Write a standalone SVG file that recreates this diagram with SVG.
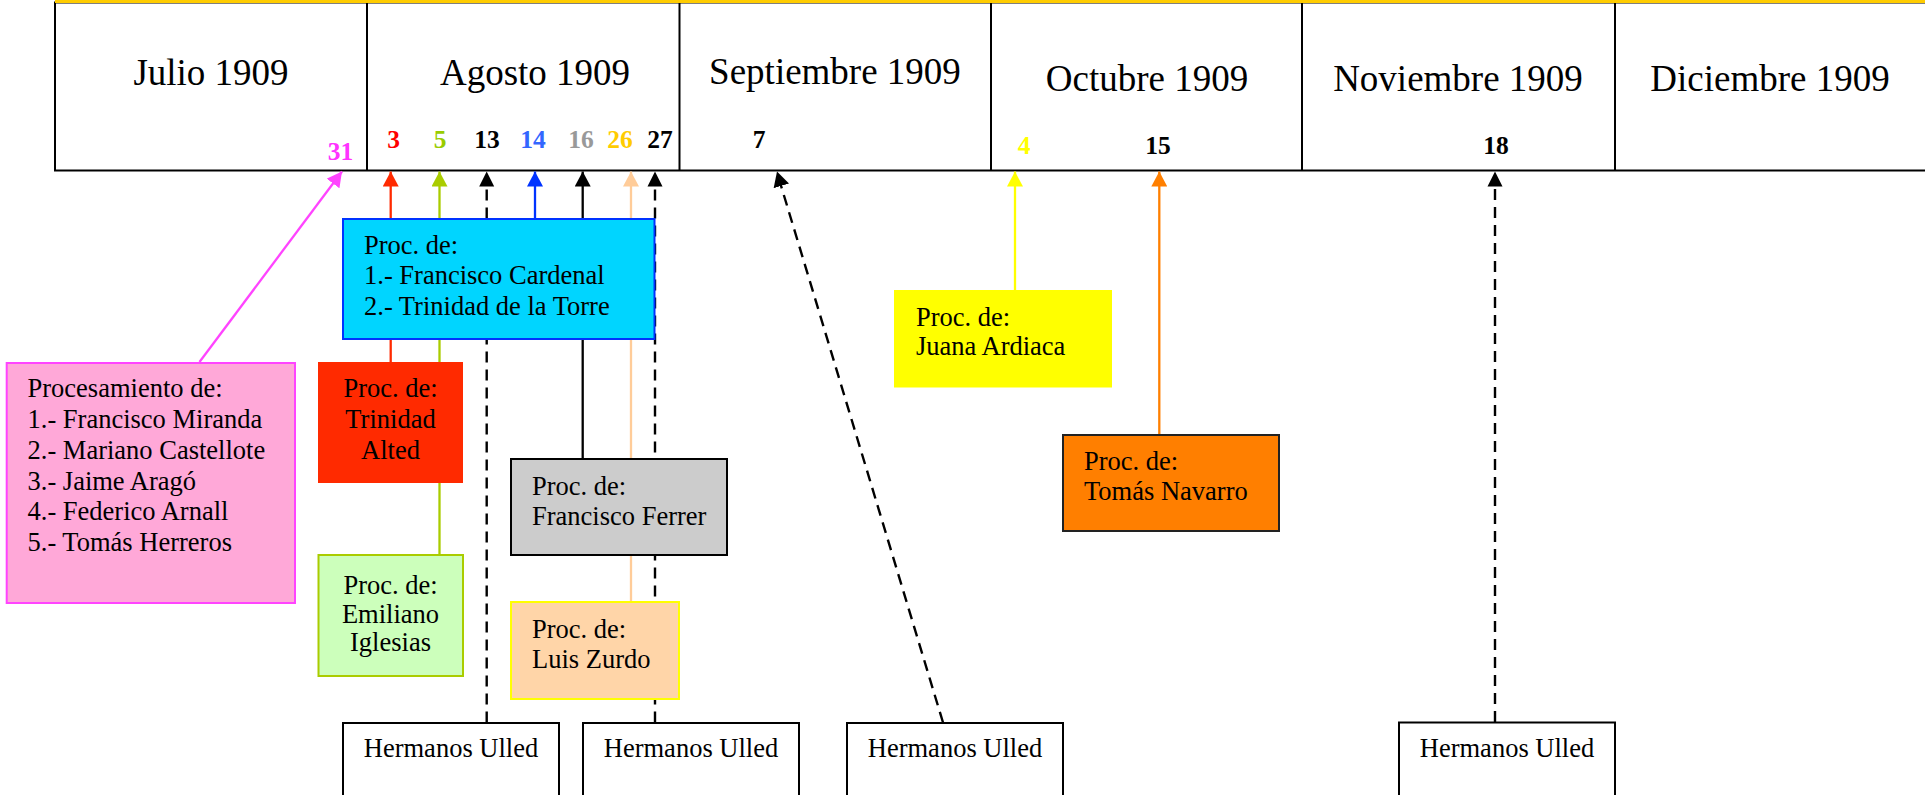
<svg xmlns="http://www.w3.org/2000/svg" width="1925" height="795" viewBox="0 0 1925 795">
<style>
text{font-family:"Liberation Serif","Times New Roman",serif;fill:#000}
.m{font-size:37px;text-anchor:middle}
.d{font-size:25.5px;font-weight:bold;text-anchor:middle}
.t{font-size:26.5px}
.c{text-anchor:middle}
.ln{fill:none;stroke-width:2.3}
.dash{stroke:#000;stroke-width:2.4;stroke-dasharray:11 7;fill:none}
</style>
<defs>
<marker id="aK" viewBox="0 0 15 16" refX="15" refY="8" markerWidth="15" markerHeight="16" markerUnits="userSpaceOnUse" orient="auto"><path d="M0,0L15,8L0,16Z" fill="#000"/></marker>
<marker id="aM" viewBox="0 0 15 16" refX="15" refY="8" markerWidth="15" markerHeight="16" markerUnits="userSpaceOnUse" orient="auto"><path d="M0,0L15,8L0,16Z" fill="#FF44FF"/></marker>
<marker id="aR" viewBox="0 0 15 16" refX="15" refY="8" markerWidth="15" markerHeight="16" markerUnits="userSpaceOnUse" orient="auto"><path d="M0,0L15,8L0,16Z" fill="#FF2A00"/></marker>
<marker id="aG" viewBox="0 0 15 16" refX="15" refY="8" markerWidth="15" markerHeight="16" markerUnits="userSpaceOnUse" orient="auto"><path d="M0,0L15,8L0,16Z" fill="#AACC00"/></marker>
<marker id="aB" viewBox="0 0 15 16" refX="15" refY="8" markerWidth="15" markerHeight="16" markerUnits="userSpaceOnUse" orient="auto"><path d="M0,0L15,8L0,16Z" fill="#0033FF"/></marker>
<marker id="aP" viewBox="0 0 15 16" refX="15" refY="8" markerWidth="15" markerHeight="16" markerUnits="userSpaceOnUse" orient="auto"><path d="M0,0L15,8L0,16Z" fill="#FFCC99"/></marker>
<marker id="aY" viewBox="0 0 15 16" refX="15" refY="8" markerWidth="15" markerHeight="16" markerUnits="userSpaceOnUse" orient="auto"><path d="M0,0L15,8L0,16Z" fill="#FFFF00"/></marker>
<marker id="aO" viewBox="0 0 15 16" refX="15" refY="8" markerWidth="15" markerHeight="16" markerUnits="userSpaceOnUse" orient="auto"><path d="M0,0L15,8L0,16Z" fill="#FF7F00"/></marker>
</defs>

<g id="timeline">
<rect x="55" y="2.5" width="1880" height="168" fill="#fff" stroke="#000" stroke-width="2"/>
<line x1="55" y1="1.4" x2="1925" y2="1.4" stroke="#FFCC00" stroke-width="3.2"/>
<g stroke="#000" stroke-width="2">
<line x1="367" y1="3" x2="367" y2="170"/>
<line x1="679.5" y1="3" x2="679.5" y2="170"/>
<line x1="991" y1="3" x2="991" y2="170"/>
<line x1="1302" y1="3" x2="1302" y2="170"/>
<line x1="1615" y1="3" x2="1615" y2="170"/>
</g>
<text class="m" x="211" y="85">Julio 1909</text>
<text class="m" x="535" y="85">Agosto 1909</text>
<text class="m" x="835" y="84">Septiembre 1909</text>
<text class="m" x="1147" y="90.5">Octubre 1909</text>
<text class="m" x="1458" y="90.5">Noviembre 1909</text>
<text class="m" x="1770" y="90.5">Diciembre 1909</text>
<text class="d" x="340.5" y="160" style="fill:#FF33FF">31</text>
<text class="d" x="393.5" y="148" style="fill:#FF0000">3</text>
<text class="d" x="440" y="148" style="fill:#99CC00">5</text>
<text class="d" x="487" y="148">13</text>
<text class="d" x="533" y="148" style="fill:#3366FF">14</text>
<text class="d" x="581" y="148" style="fill:#999999">16</text>
<text class="d" x="620" y="148" style="fill:#FFCC00">26</text>
<text class="d" x="660" y="148">27</text>
<text class="d" x="759" y="148">7</text>
<text class="d" x="1024" y="154" style="fill:#FFFF00">4</text>
<text class="d" x="1158" y="154">15</text>
<text class="d" x="1496" y="154">18</text>
</g>

<g id="connectors">
<line class="ln" x1="199.5" y1="362" x2="342" y2="171.5" stroke="#FF44FF" marker-end="url(#aM)"/>
<line class="ln" x1="390.7" y1="362" x2="390.7" y2="171.5" stroke="#FF2A00" marker-end="url(#aR)"/>
<line class="ln" x1="439.5" y1="555" x2="439.5" y2="171.5" stroke="#AACC00" marker-end="url(#aG)"/>
<line class="dash" x1="486.7" y1="722.5" x2="486.7" y2="180"/>
<path d="M479.2,186.5L486.7,171.5L494.2,186.5Z" fill="#000"/>
<line class="ln" x1="535" y1="219" x2="535" y2="171.5" stroke="#0033FF" marker-end="url(#aB)"/>
<line class="ln" x1="582.7" y1="459" x2="582.7" y2="171.5" stroke="#000" marker-end="url(#aK)"/>
<line class="ln" x1="631" y1="602" x2="631" y2="171.5" stroke="#FFCC99" marker-end="url(#aP)"/>
<line class="dash" x1="655" y1="722.5" x2="655" y2="180"/>
<path d="M647.5,186.5L655,171.5L662.5,186.5Z" fill="#000"/>
<line class="dash" x1="943" y1="722.5" x2="779" y2="179"/>
<line class="ln" x1="943" y1="722.5" x2="777" y2="171.5" stroke="none" marker-end="url(#aK)"/>
<line class="ln" x1="1015" y1="290" x2="1015" y2="171.5" stroke="#FFFF00" marker-end="url(#aY)"/>
<line class="ln" x1="1159.3" y1="435" x2="1159.3" y2="171.5" stroke="#FF7F00" stroke-width="2.6" marker-end="url(#aO)"/>
<line class="dash" x1="1495" y1="722" x2="1495" y2="180"/>
<path d="M1487.5,186.5L1495,171.5L1502.5,186.5Z" fill="#000"/>
</g>

<g id="n-pink">
<rect x="6.7" y="363" width="288.3" height="240" fill="#FFA8D8" stroke="#FF44FF" stroke-width="2"/>
<text class="t" x="27.5" y="397">Procesamiento de:</text>
<text class="t" x="27.5" y="428">1.- Francisco Miranda</text>
<text class="t" x="27.5" y="459">2.- Mariano Castellote</text>
<text class="t" x="27.5" y="489.5">3.- Jaime Aragó</text>
<text class="t" x="27.5" y="520">4.- Federico Arnall</text>
<text class="t" x="27.5" y="551">5.- Tomás Herreros</text>
</g>

<g id="n-cyan">
<rect x="343" y="219" width="311.5" height="120" fill="#00D5FF" stroke="#0033FF" stroke-width="2"/>
<text class="t" x="364" y="254">Proc. de:</text>
<text class="t" x="364" y="284">1.- Francisco Cardenal</text>
<text class="t" x="364" y="314.5">2.- Trinidad de la Torre</text>
</g>

<g id="n-red">
<rect x="318" y="362" width="145" height="121" fill="#FF2A00"/>
<text class="t c" x="390.5" y="397">Proc. de:</text>
<text class="t c" x="390.5" y="428">Trinidad</text>
<text class="t c" x="390.5" y="459">Alted</text>
</g>

<g id="n-green">
<rect x="318.5" y="555" width="144.5" height="121" fill="#CCFFBB" stroke="#AACC00" stroke-width="2"/>
<text class="t c" x="390.5" y="594">Proc. de:</text>
<text class="t c" x="390.5" y="623">Emiliano</text>
<text class="t c" x="390.5" y="651">Iglesias</text>
</g>

<g id="n-gray">
<rect x="511" y="459" width="216" height="96" fill="#CCCCCC" stroke="#000" stroke-width="2"/>
<text class="t" x="532" y="495">Proc. de:</text>
<text class="t" x="532" y="524.5">Francisco Ferrer</text>
</g>

<g id="n-peach">
<rect x="511" y="602" width="168" height="97" fill="#FFD5A8" stroke="#FFFF00" stroke-width="2"/>
<text class="t" x="532" y="638">Proc. de:</text>
<text class="t" x="532" y="668">Luis Zurdo</text>
</g>

<g id="n-yellow">
<rect x="894" y="290" width="218" height="97.5" fill="#FFFF00"/>
<text class="t" x="916" y="325.5">Proc. de:</text>
<text class="t" x="916" y="355">Juana Ardiaca</text>
</g>

<g id="n-orange">
<rect x="1063" y="435" width="216" height="96" fill="#FF7F00" stroke="#222" stroke-width="2"/>
<text class="t" x="1084" y="470">Proc. de:</text>
<text class="t" x="1084" y="500">Tomás Navarro</text>
</g>

<g id="n-ulled1">
<rect x="343" y="723" width="216" height="80" fill="#fff" stroke="#000" stroke-width="2"/>
<text class="t c" x="451" y="757">Hermanos Ulled</text>
</g>
<g id="n-ulled2">
<rect x="583" y="723" width="216" height="80" fill="#fff" stroke="#000" stroke-width="2"/>
<text class="t c" x="691" y="757">Hermanos Ulled</text>
</g>
<g id="n-ulled3">
<rect x="847" y="723" width="216" height="80" fill="#fff" stroke="#000" stroke-width="2"/>
<text class="t c" x="955" y="757">Hermanos Ulled</text>
</g>
<g id="n-ulled4">
<rect x="1399" y="722.5" width="216" height="80" fill="#fff" stroke="#000" stroke-width="2"/>
<text class="t c" x="1507" y="757">Hermanos Ulled</text>
</g>
</svg>
